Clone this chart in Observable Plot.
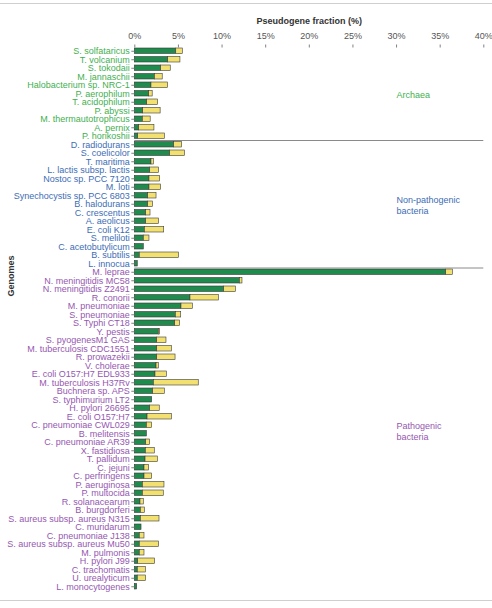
<!DOCTYPE html>
<html><head><meta charset="utf-8">
<script src="https://cdn.jsdelivr.net/npm/d3@7"></script>
<script src="https://cdn.jsdelivr.net/npm/@observablehq/plot@0.6"></script>
<style>
body{margin:0;background:#fff;}
#chart{margin-top:3px;border-top:1px solid #cfcfcf;border-bottom:1px solid #cfcfcf;width:492px;height:596px}
#chart svg{display:block}
</style></head><body><div id="chart"></div>
<script>
// ---- data ----
const archaea = ["S. solfataricus","T. volcanium","S. tokodaii","M. jannaschii","Halobacterium sp. NRC-1","P. aerophilum","T. acidophilum","P. abyssi","M. thermautotrophicus","A. pernix","P. horikoshii"];
const archaeaGreen  = [4.75,3.83,3.02,2.3,1.91,1.65,1.42,0.96,0.92,0.5,0.39];
const archaeaYellow = [0.75,1.4,1.1,0.9,1.9,0.4,1.25,2.0,0.9,1.75,3.05];

const nonPathogenic = ["D. radiodurans","S. coelicolor","T. maritima","L. lactis subsp. lactis","Nostoc sp. PCC 7120","M. loti","Synechocystis sp. PCC 6803","B. halodurans","C. crescentus","A. aeolicus","E. coli K12","S. meliloti","C. acetobutylicum","B. subtilis","L. innocua"];
const nonPathogenicGreen  = [4.51,4.05,1.91,1.76,1.68,1.68,1.53,1.53,1.3,1.3,1.15,1.03,1.03,0.57,0.34];
const nonPathogenicYellow = [0.92,1.7,0.27,1.03,1.23,1.34,0.96,0.57,0.5,1.49,2.22,0.65,0,4.5,0];

const pathogenic = ["M. leprae","N. meningitidis MC58","N. meningitidis Z2491","R. conorii","M. pneumoniae","S. pneumoniae","S. Typhi CT18","Y. pestis","S. pyogenesM1 GAS","M. tuberculosis CDC1551","R. prowazekii","V. cholerae","E. coli O157:H7 EDL933","M. tuberculosis H37Rv","Buchnera sp. APS","S. typhimurium LT2","H. pylori 26695","E. coli O157:H7","C. pneumoniae CWL029","B. melitensis","C. pneumoniae AR39","X. fastidiosa","T. pallidum","C. jejuni","C. perfringens","P. aeruginosa","P. multocida","R. solanacearum","B. burgdorferi","S. aureus subsp. aureus N315","C. muridarum","C. pneumoniae J138","S. aureus subsp. aureus Mu50","M. pulmonis","H. pylori J99","C. trachomatis","U. urealyticum","L. monocytogenes"];
const pathogenicGreen  = [35.69,12.04,10.24,6.38,5.35,4.7,4.63,2.75,2.57,2.57,2.57,2.49,2.37,2.18,2.1,1.99,1.76,1.46,1.38,1.38,1.3,1.26,1.23,1.11,1.11,0.92,0.92,0.65,0.69,0.69,0.77,0.57,0.57,0.57,0.39,0.34,0.34,0.27];
const pathogenicYellow = [0.76,0.3,1.34,3.25,1.3,0.62,0.57,0.16,1.06,1.67,2.1,0.26,1.3,5.15,1.34,0,1.1,2.78,0.61,0,0.46,1.03,1.41,0.54,0.88,2.48,2.4,0.38,0.46,2.14,0,0.54,2.22,0.54,1.94,0.92,0.96,0];

const groupLabels = ["Archaea", "Non-pathogenic\nbacteria", "Pathogenic\nbacteria"];
const xTicks = [0,5,10,15,20,25,30,35,40];
const groupLabelX = 30;

// ---- styles ----
const GREEN = "#1f8b4c", YELLOW = "#f2e170";
const labelColors = ["#3fb050", "#3d6db5", "#9557b1"];

const groups = [
  {genomes: archaea, green: archaeaGreen, yellow: archaeaYellow},
  {genomes: nonPathogenic, green: nonPathogenicGreen, yellow: nonPathogenicYellow},
  {genomes: pathogenic, green: pathogenicGreen, yellow: pathogenicYellow}
].map((g, k) => ({...g, label: groupLabels[k], color: labelColors[k]}));

const genomes = groups.flatMap(g => g.genomes);
const rows = groups.flatMap(g => g.genomes.flatMap((name, i) => [
  {genome: name, part: "a", value: g.green[i]},
  {genome: name, part: "b", value: g.yellow[i]}
])).filter(d => d.value > 0);

const W = 492, H = 596, mt = 42.5, mb = 9.5, ml = 134.3, mr = 8.7;
const bw = (H - mt - mb) / genomes.length;

const marks = [
  Plot.barX(rows, {y: "genome", x: "value", fill: d => d.part === "a" ? GREEN : YELLOW,
    stroke: "#3a3a3a", strokeWidth: 0.6, insetTop: 1.5, insetBottom: 1.5}),
  Plot.ruleY([nonPathogenic[0], pathogenic[0]], {dy: -bw / 2, stroke: "#8a8a8a", strokeWidth: 1}),
  Plot.axisX({anchor: "top", ticks: xTicks, tickFormat: d => d + "%", tickSize: 3, tickPadding: 5.5,
    line: true, label: null, fill: "#555"}),
  ...groups.map((g, k) => Plot.axisY(g.genomes, {anchor: "left", tickSize: 3, tickPadding: 2,
    line: k === 0, label: null, fill: g.color})),
  ...groups.map(g => {
    const n = g.genomes.length;
    const mid = g.genomes[Math.floor((n - 1) / 2)];
    return Plot.text([g.label], {x: groupLabelX, y: () => mid, textAnchor: "start", fill: g.color,
      lineHeight: 1.22, dy: 1 + ((n - 1) % 2) * bw / 2});
  }),
  Plot.text(["Pseudogene fraction (%)"], {frameAnchor: "top", dy: -29, fontWeight: "bold", fill: "#333"}),
  Plot.text(["Genomes"], {frameAnchor: "left", rotate: -90, dx: -124, dy: -22.5, fontWeight: "bold", fill: "#333"})
];

const chart = Plot.plot({
  width: W, height: H,
  marginTop: mt, marginBottom: mb, marginLeft: ml, marginRight: mr,
  style: {fontFamily: "'Liberation Sans', Arial, Helvetica, sans-serif", fontSize: "9px", color: "#808080", background: "white", overflow: "visible"},
  x: {domain: [0, 40]},
  y: {domain: genomes, padding: 0, round: false},
  color: {type: "identity"},
  marks
});
document.getElementById("chart").appendChild(chart);
</script>
</body></html>
